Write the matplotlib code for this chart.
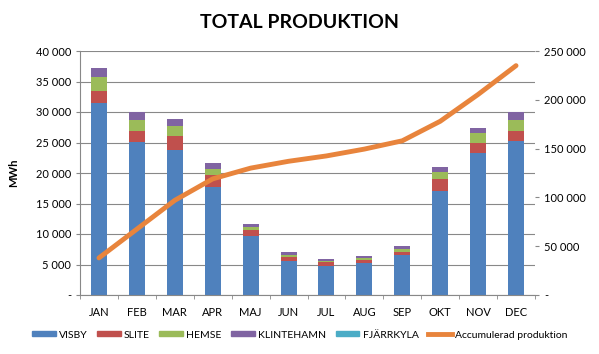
import matplotlib.pyplot as plt
import numpy as np
from matplotlib.ticker import FuncFormatter
from matplotlib.patches import Patch
from matplotlib.lines import Line2D

plt.rcParams['font.family'] = ['Lato', 'DejaVu Sans']

months = ['JAN', 'FEB', 'MAR', 'APR', 'MAJ', 'JUN', 'JUL', 'AUG', 'SEP', 'OKT', 'NOV', 'DEC']
visby = [31500, 25100, 23800, 17700, 9600, 5600, 4750, 5200, 6600, 17000, 23300, 25200]
slite = [1900, 1800, 2300, 1900, 1100, 600, 650, 500, 500, 2000, 1600, 1700]
hemse = [2300, 1800, 1600, 1100, 500, 400, 200, 300, 500, 1200, 1600, 1800]
klintehamn = [1500, 1300, 1200, 1000, 450, 400, 300, 400, 500, 800, 900, 1300]
fjarrkyla = [0, 0, 0, 0, 0, 0, 0, 0, 0, 0, 0, 0]
accum = [38000, 67500, 97000, 119000, 130000, 137000, 142500, 149500, 158000, 178000, 205500, 235000]

series = [('VISBY', visby, '#4F81BD'), ('SLITE', slite, '#C0504D'),
          ('HEMSE', hemse, '#9BBB59'), ('KLINTEHAMN', klintehamn, '#8064A2'),
          ('FJÄRRKYLA', fjarrkyla, '#4BACC6')]
line_color = '#E8843C'


def fmt(v, pos):
    if v == 0:
        return '-'
    return '{:,.0f}'.format(v).replace(',', ' ')


fig = plt.figure(figsize=(5.99, 3.54), dpi=100)
ax = fig.add_axes([80 / 599, 1 - 295 / 354, 455 / 599, 244 / 354])
ax2 = ax.twinx()

x = np.arange(len(months))
bottom = np.zeros(len(months))
for name, vals, c in series:
    ax.bar(x, vals, 0.42, bottom=bottom, color=c, zorder=2)
    bottom += np.array(vals)

ax2.plot(x, accum, color=line_color, lw=3.5, solid_capstyle='round', zorder=3)

ax.set_xlim(-0.5, 11.5)
ax.set_ylim(0, 40000)
ax.set_yticks(np.arange(0, 40001, 5000))
ax2.set_ylim(0, 250000)
ax2.set_yticks(np.arange(0, 250001, 50000))
ax.yaxis.set_major_formatter(FuncFormatter(fmt))
ax2.yaxis.set_major_formatter(FuncFormatter(fmt))

ax.grid(axis='y', color='#888888', lw=0.8, zorder=0)
ax.set_axisbelow(True)
ax.set_xticks(x)
ax.set_xticklabels(months)
ax.set_xticks(np.arange(-0.5, 12, 1), minor=True)
ax.tick_params(axis='x', which='major', length=0, labelsize=8, pad=9)
ax.tick_params(axis='x', which='minor', length=3, color='#888888')
ax.tick_params(axis='y', length=3, color='#888888', labelsize=8)
ax2.tick_params(axis='y', length=3, color='#888888', labelsize=8)

for a in (ax, ax2):
    for s in ['top', 'right']:
        a.spines[s].set_visible(False)
    a.spines['left'].set_color('#888888')
    a.spines['bottom'].set_color('#888888')
ax2.spines['left'].set_visible(False)
ax2.spines['bottom'].set_visible(False)

ax.set_ylabel('MWh', fontsize=8, fontweight='bold', labelpad=12)
fig.text(0.5, 1 - 22 / 354, 'TOTAL PRODUKTION', ha='center', va='center',
         fontsize=14, fontweight='bold')

handles = [Patch(color=c, label=n) for n, v, c in series]
handles.append(Line2D([], [], color=line_color, lw=3.5, label='Accumulerad produktion'))
fig.legend(handles=handles, loc='center', bbox_to_anchor=(0.5, 1 - 335 / 354), ncol=6,
           frameon=False, fontsize=7.5, handlelength=2.3, handleheight=0.4,
           columnspacing=0.9, handletextpad=0.3)

fig.savefig('out.png', dpi=100)
